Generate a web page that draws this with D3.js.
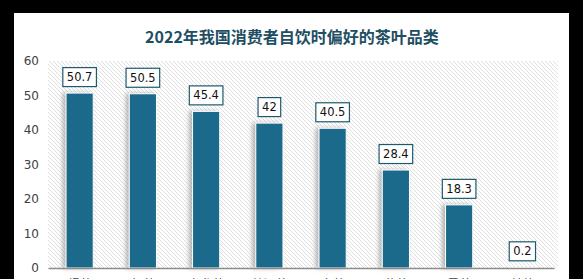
<!DOCTYPE html>
<html>
<head>
<meta charset="utf-8">
<script src="https://cdn.jsdelivr.net/npm/d3@7"></script>
<style>
  html, body { margin: 0; padding: 0; background: #000; }
  svg { display: block; }
</style>
</head>
<body>
<div id="chart"></div>
<script>
// data
const categories = ['绿茶', '红茶', '乌龙茶', '普洱茶', '白茶', '花茶', '黑茶', '其他'];
const values = [50.7, 50.5, 45.4, 42, 40.5, 28.4, 18.3, 0.2];
const yTicks = [0, 10, 20, 30, 40, 50, 60];
const title = '2022年我国消费者自饮时偏好的茶叶品类';

const W = 583, H = 279;
const plot = { left: 48, right: 554, top: 61, bottom: 268 };

const svg = d3.select('#chart').append('svg')
  .attr('width', W)
  .attr('height', H);

const defs = svg.append('defs');

// hatch pattern for plot background
const pat = defs.append('pattern')
  .attr('id', 'hatch')
  .attr('patternUnits', 'userSpaceOnUse')
  .attr('width', 4)
  .attr('height', 4);
pat.append('rect').attr('width', 4).attr('height', 4).attr('fill', '#fff');
pat.append('path')
  .attr('d', 'M-1,-1 L5,5 M-1,3 L1,5 M3,-1 L5,1')
  .attr('stroke', '#dedede')
  .attr('stroke-width', 1);

// soft shadow for bars
const sh = defs.append('filter')
  .attr('id', 'shadow')
  .attr('x', '-50%').attr('y', '-10%')
  .attr('width', '200%').attr('height', '120%');
sh.append('feDropShadow')
  .attr('dx', -3).attr('dy', 0)
  .attr('stdDeviation', 2)
  .attr('flood-color', '#888')
  .attr('flood-opacity', 0.6);

// white panel on black frame
svg.append('rect')
  .attr('x', 14).attr('y', 13)
  .attr('width', 555).attr('height', H)
  .attr('fill', '#fff');

// title
svg.append('text')
  .attr('x', 292)
  .attr('y', 43)
  .attr('text-anchor', 'middle')
  .style('font-family', '"Noto Sans CJK SC", sans-serif')
  .style('font-weight', 'bold')
  .style('font-size', '16px')
  .style('fill', '#1d4e62')
  .text(title);

// scales
const x = d3.scaleBand()
  .domain(categories)
  .range([plot.left, plot.right])
  .paddingInner(0.57)
  .paddingOuter(0.285);

const y = d3.scaleLinear()
  .domain([0, 60])
  .range([plot.bottom, plot.top]);

// hatched plot background
svg.append('rect')
  .attr('x', plot.left)
  .attr('y', plot.top)
  .attr('width', 510)
  .attr('height', plot.bottom - plot.top)
  .attr('fill', 'url(#hatch)');

// y axis labels
const yAxis = svg.append('g')
  .attr('transform', 'translate(' + (plot.left - 9) + ',0)')
  .call(d3.axisLeft(y).tickValues(yTicks).tickSize(0).tickPadding(0));
yAxis.select('.domain').remove();
yAxis.selectAll('text')
  .style('font-family', '"DejaVu Sans", sans-serif')
  .style('font-size', '12px')
  .style('fill', '#404040');

// bars
svg.selectAll('.bar')
  .data(values)
  .enter().append('rect')
  .attr('class', 'bar')
  .attr('x', (d, i) => x(categories[i]))
  .attr('y', d => y(d))
  .attr('width', x.bandwidth())
  .attr('height', d => y(0) - y(d))
  .attr('fill', '#1d6b8b')
  .attr('stroke', '#fff')
  .attr('stroke-width', 1)
  .attr('filter', 'url(#shadow)');

// x axis (labels sit below the visible frame, only their tops show)
const xAxis = svg.append('g')
  .attr('transform', 'translate(0,' + plot.bottom + ')')
  .call(d3.axisBottom(x).tickSize(0).tickPadding(12));
xAxis.select('.domain')
  .attr('stroke', '#8c8c8c')
  .attr('stroke-width', 1.5);
xAxis.selectAll('text')
  .style('font-family', '"Noto Sans CJK SC", sans-serif')
  .style('font-size', '12px')
  .style('fill', '#404040');

// value labels in boxes
const labels = svg.selectAll('.lbl')
  .data(values)
  .enter().append('g')
  .attr('class', 'lbl')
  .attr('transform', (d, i) => 'translate(' + (x(categories[i]) + x.bandwidth() / 2) + ',' + (y(d) - 16) + ')');

labels.append('text')
  .attr('text-anchor', 'middle')
  .attr('dy', '0.35em')
  .style('font-family', '"DejaVu Sans", sans-serif')
  .style('font-size', '11.5px')
  .style('fill', '#111')
  .text(d => d);

labels.each(function () {
  const g = d3.select(this);
  const bb = g.select('text').node().getBBox();
  g.insert('rect', 'text')
    .attr('x', bb.x - 4)
    .attr('y', -9.5)
    .attr('width', bb.width + 8)
    .attr('height', 19)
    .attr('fill', '#fff')
    .attr('stroke', '#1d5a6e')
    .attr('stroke-width', 1.2);
});
</script>
</body>
</html>
